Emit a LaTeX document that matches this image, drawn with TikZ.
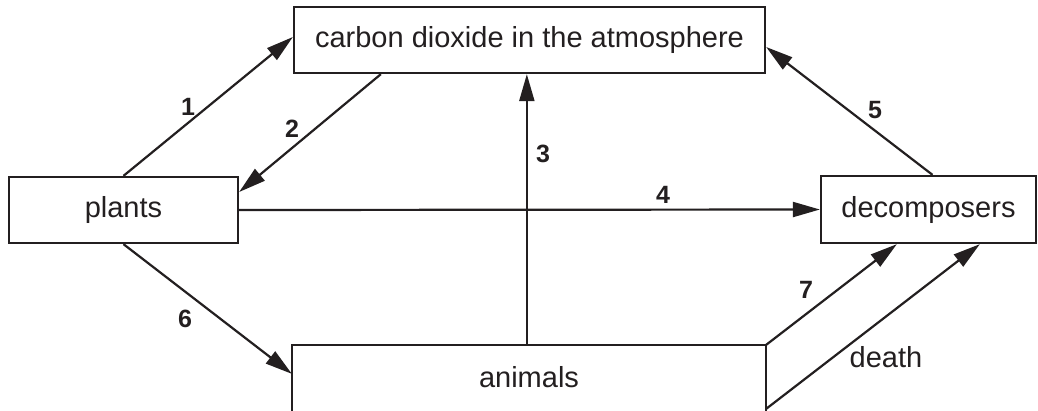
\documentclass[tikz,border=0pt]{standalone}
\usepackage{fontspec}
\setmainfont{Liberation Sans}
\usetikzlibrary{arrows.meta}
\definecolor{ink}{HTML}{231F20}
\tikzset{
  box/.style={draw=ink, line width=2.3pt, inner sep=0pt, text=ink, font=\fontsize{29}{34}\selectfont},
  conn/.style={draw=ink, line width=2.2pt, -{Triangle[length=27pt,width=15pt]}},
  num/.style={text=ink, font=\fontsize{25}{30}\selectfont\bfseries, anchor=base, inner sep=0pt},
  lbl/.style={text=ink, font=\fontsize{29}{34}\selectfont, anchor=base, inner sep=0pt}
}
\begin{document}
\begin{tikzpicture}[x=1pt,y=-1pt]
\clip (0,0) rectangle (1038,410);
\fill[white] (0,0) rectangle (1038,410);
\node[box, minimum width=471pt, minimum height=66pt] (co2) at (529.5,40) {carbon dioxide in the atmosphere};
\node[box, minimum width=229pt, minimum height=66pt] (plants) at (123.5,210) {plants};
\node[box, minimum width=215pt, minimum height=67pt] (decomp) at (928.5,209.5) {decomposers};
\node[box, draw=none, minimum width=472pt, minimum height=62pt] (animals) at (529,377) {animals};
\draw[ink, line width=2.3pt] ([yshift=-20pt]animals.south west) -- (animals.north west) -- (animals.north east) -- ([yshift=-20pt]animals.south east);
% connectors
\draw[conn] (plants.north) -- ([yshift=3pt]co2.west);
\draw[conn] ([xshift=88pt]co2.south west) -- ([yshift=18pt]plants.east);
\draw[conn] ([xshift=235pt]animals.north west) -- ([xshift=234pt]co2.south west);
\draw[conn] (plants.east) -- (decomp.west);
\draw[conn] ([xshift=4pt]decomp.north) -- ([yshift=-7pt]co2.east);
\draw[conn] (plants.south) -- ([yshift=-29pt]animals.north west);
\draw[conn] (animals.north east) -- ([xshift=77pt]decomp.south west);
\draw[conn] ([yshift=-64pt]animals.north east) -- ([xshift=160pt]decomp.south west);
% labels
\node[num] (l1) at (188,115) {1};
\node[num] (l2) at (292,137) {2};
\node[num] (l3) at (543,162) {3};
\node[num] (l4) at (663,203) {4};
\node[num] (l5) at (875,118) {5};
\node[num] (l6) at (185,327) {6};
\node[num] (l7) at (806,298) {7};
\node[lbl] (ld) at (886,367) {death};
\end{tikzpicture}
\end{document}
